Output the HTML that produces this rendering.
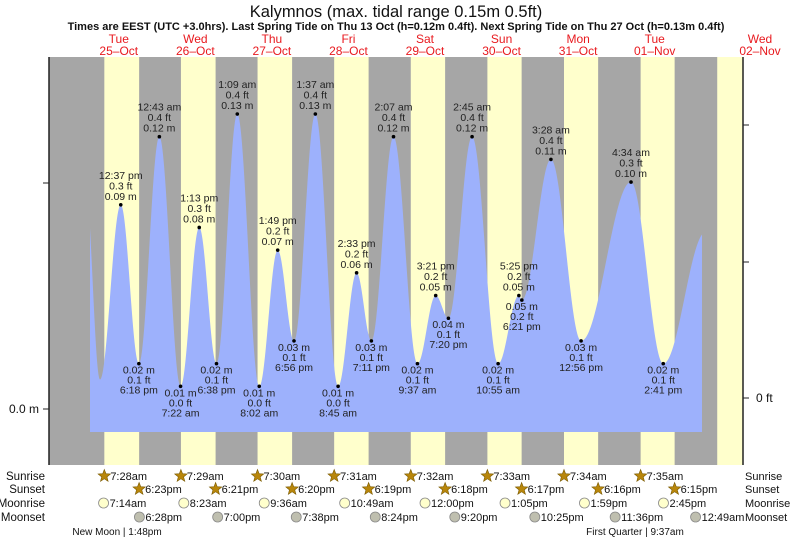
<!DOCTYPE html>
<html><head><meta charset="utf-8"><style>
body{margin:0;background:#fff;}
svg{display:block;font-family:"Liberation Sans",sans-serif;}
</style></head><body>
<svg id="chart" width="793" height="539" viewBox="0 0 793 539" xmlns="http://www.w3.org/2000/svg">
<text x="396" y="17" font-size="16.5" text-anchor="middle" fill="#111">Kalymnos (max. tidal range 0.15m 0.5ft)</text>
<text x="396" y="30" font-size="11" font-weight="bold" text-anchor="middle" fill="#111">Times are EEST (UTC +3.0hrs). Last Spring Tide on Thu 13 Oct (h=0.12m 0.4ft). Next Spring Tide on Thu 27 Oct (h=0.13m 0.4ft)</text>
<g id="daylabels"></g>
<g id="bg"></g>
<path id="water" fill="#9db1fc"/>
<g id="marks"></g>
<line x1="49" y1="57" x2="49" y2="465" stroke="#222" stroke-width="1.5"/>
<line x1="743" y1="57" x2="743" y2="465" stroke="#222" stroke-width="1.5"/>
<g id="axes" font-size="12" fill="#111"></g>
<g id="astro" font-size="11" fill="#111"></g>
</svg>
<script>
const NS="http://www.w3.org/2000/svg";
// data
const days=["Tue","Wed","Thu","Fri","Sat","Sun","Mon","Tue","Wed"];
const dates=["25\u2013Oct","26\u2013Oct","27\u2013Oct","28\u2013Oct","29\u2013Oct","30\u2013Oct","31\u2013Oct","01\u2013Nov","02\u2013Nov"];
const sunrise=["7:28am","7:29am","7:30am","7:31am","7:32am","7:33am","7:34am","7:35am"];
const sunset=["6:23pm","6:21pm","6:20pm","6:19pm","6:18pm","6:17pm","6:16pm","6:15pm"];
const moonrise=["7:14am","8:23am","9:36am","10:49am","12:00pm","1:05pm","1:59pm","2:45pm"];
const moonset=["6:28pm","7:00pm","7:38pm","8:24pm","9:20pm","10:25pm","11:36pm","12:49am"];
// tide extremes: hours since 25-Oct 00:00, height m, label time, ft
const tideHours=[1.5,6.1,12.62,18.3,24.72,31.37,37.22,42.63,49.15,56.03,61.82,66.93,73.62,80.75,86.55,91.18,98.12,105.62,111.35,115.33,122.75,130.92,137.42,138.35,147.47,156.93,172.57,182.68,196];
const tideHeights=[0.10,0.013,0.09,0.02,0.12,0.01,0.08,0.02,0.13,0.01,0.07,0.03,0.13,0.01,0.06,0.03,0.12,0.02,0.05,0.04,0.12,0.02,0.05,0.048,0.11,0.03,0.10,0.02,0.078];
const tideTimes=["","","12:37 pm","6:18 pm","12:43 am","7:22 am","1:13 pm","6:38 pm","1:09 am","8:02 am","1:49 pm","6:56 pm","1:37 am","8:45 am","2:33 pm","7:11 pm","2:07 am","9:37 am","3:21 pm","7:20 pm","2:45 am","10:55 am","5:25 pm","6:21 pm","3:28 am","12:56 pm","4:34 am","2:41 pm",""];
const tideFt=["","","0.3","0.1","0.4","0.0","0.3","0.1","0.4","0.0","0.2","0.1","0.4","0.0","0.2","0.1","0.4","0.1","0.2","0.1","0.4","0.1","0.2","0.2","0.4","0.1","0.3","0.1",""];
const tideM=["","","0.09","0.02","0.12","0.01","0.08","0.02","0.13","0.01","0.07","0.03","0.13","0.01","0.06","0.03","0.12","0.02","0.05","0.04","0.12","0.02","0.05","0.05","0.11","0.03","0.10","0.02",""];

const X0=80.5,PPH=3.19;
const xs=h=>X0+h*PPH;
const ys=m=>409-m*2269;
function hm(s){const m=s.match(/(\d+):(\d+)(am|pm)/);let h=+m[1]%12;if(m[3]=="pm")h+=12;return h+ +m[2]/60;}
function el(tag,attrs,parent,txt){const e=document.createElementNS(NS,tag);for(const k in attrs)e.setAttribute(k,attrs[k]);if(txt!==undefined)e.textContent=txt;parent.appendChild(e);return e;}

// day labels
const dl=document.getElementById('daylabels');
days.forEach((d,i)=>{let cx=xs(i*24+12);if(i==8)cx=760;
 const t=el('text',{x:cx,y:43,'font-size':12,'text-anchor':'middle',fill:'#e8191e'},dl,d);
 
 
 const t2=el('text',{x:cx,y:55,'font-size':12,'text-anchor':'middle',fill:'#e8191e'},dl,dates[i]);
 
 
});
// background
const bg=document.getElementById('bg');
el('rect',{x:49,y:57,width:694,height:408,fill:'#a6a6a6'},bg);
for(let i=0;i<9;i++){const sr=i<8?hm(sunrise[i]):7.6,ss=i<8?hm(sunset[i]):18.22;
 let a=xs(i*24+sr),b=Math.min(743,xs(i*24+ss));
 const r=el('rect',{x:a,y:57,width:b-a,height:408,fill:'#ffffcc'},bg);
 
 
}
// water curve
function level(h){for(let i=0;i<tideHours.length-1;i++){if(h>=tideHours[i]&&h<=tideHours[i+1]){const f=(h-tideHours[i])/(tideHours[i+1]-tideHours[i]);return tideHeights[i+1]+(tideHeights[i]-tideHeights[i+1])*(1+Math.cos(Math.PI*f))/2;}}return tideHeights[tideHeights.length-1];}
let d="M90,432";
for(let x=90;x<=702;x+=0.5){d+=" L"+x+","+ys(level((x-X0)/PPH)).toFixed(2);}
d+=" L702,432 Z";
document.getElementById('water').setAttribute('d',d);
// marks & labels
const mk=document.getElementById('marks');
tideHours.forEach((h,i)=>{if(!tideTimes[i])return;
 const x=xs(h),y=ys(tideHeights[i]);
 const c=el('circle',{cx:x,cy:y,r:1.8,fill:'#000'},mk);
 
 
 const high=(i==0||tideHeights[i]>tideHeights[i-1]);
 const lines=high?[tideTimes[i],tideFt[i]+" ft",tideM[i]+" m"]:[tideM[i]+" m",tideFt[i]+" ft",tideTimes[i]];
 lines.forEach((s,j)=>{const ty=high?y-5-(2-j)*10.5:y+10+j*10;
  const t=el('text',{x:x,y:ty,'font-size':10.5,'text-anchor':'middle',fill:'#222'},mk,s);
  
  });
});
// axes
const ax=document.getElementById('axes');
[[409,"0.0 m"]].forEach(([y,s])=>{el('line',{x1:43,y1:y,x2:49,y2:y,stroke:'#222'},ax);const t=el('text',{x:39,y:y+4,'text-anchor':'end'},ax,s);});
el('line',{x1:43,y1:183,x2:49,y2:183,stroke:'#222'},ax);
[125,262,398].forEach(y=>el('line',{x1:743,y1:y,x2:749,y2:y,stroke:'#222'},ax));
const rt=el('text',{x:756,y:402},ax,"0 ft");
// astro rows
const as=document.getElementById('astro');
const rows=[["Sunrise",480],["Sunset",493],["Moonrise",507],["Moonset",521]];
rows.forEach(([n,y])=>{const a=el('text',{x:45,y:y,'text-anchor':'end','font-size':11.5},as,n);
 const b=el('text',{x:745,y:y,'font-size':11},as,n);});
function star(cx,cy){let p="";for(let k=0;k<10;k++){const r=k%2?2.8:6.5,a=-Math.PI/2+k*Math.PI/5;p+=(cx+r*Math.cos(a)).toFixed(1)+","+(cy+r*Math.sin(a)).toFixed(1)+" ";}return p;}
const series=[[sunrise,0,'sun'],[sunset,1,'sun'],[moonrise,2,'rise'],[moonset,3,'set']];
series.forEach(([arr,r,kind])=>{arr.forEach((s,i)=>{let h=i*24+hm(s);if(kind=='set'&&s.endsWith("am"))h+=24;
 const x=xs(h),y=rows[r][1]-4;
 let ic;
 if(kind=='sun')ic=el('polygon',{points:star(x,y),fill:'#b8860b',stroke:'#7a5a00','stroke-width':0.6},as);
 else ic=el('circle',{cx:x,cy:y,r:5,fill:kind=='rise'?'#ffffcc':'#bfbfaf',stroke:'#888','stroke-width':0.8},as);
 
 
 const t=el('text',{x:x+6,y:rows[r][1]},as,s);
 
 
});});
const p1=el('text',{x:117,y:535,'text-anchor':'middle','font-size':10},as,"New Moon | 1:48pm");
const p2=el('text',{x:635,y:535,'text-anchor':'middle','font-size':10},as,"First Quarter | 9:37am");
</script>
</body></html>
